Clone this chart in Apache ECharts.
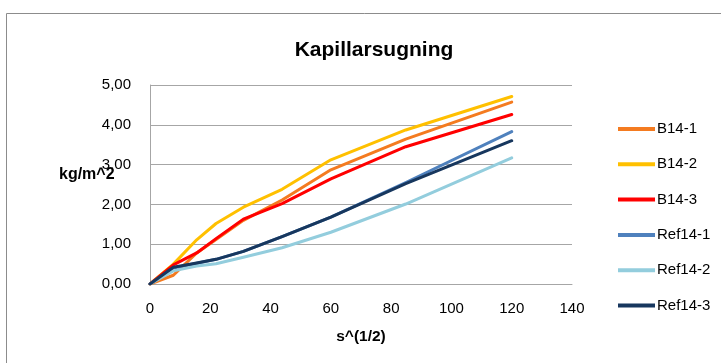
<!DOCTYPE html>
<html>
<head>
<meta charset="utf-8">
<script src="https://cdn.jsdelivr.net/npm/echarts@6/dist/echarts.min.js"></script>
<style>
  html, body { margin: 0; padding: 0; background: #fff; }
  #chart { width: 721px; height: 363px; }
</style>
</head>
<body>
<div id="chart"></div>
<script>
// Square root of elapsed seconds at each weighing
const sqrtSeconds = [0, 7.75, 15.49, 21.91, 30.98, 43.82, 60, 84.85, 120];

// Absorbed water per area, kg/m^2
const b14_1   = [0, 0.22, 0.78, 1.12, 1.60, 2.11, 2.87, 3.64, 4.57];
const b14_2   = [0, 0.50, 1.11, 1.52, 1.93, 2.38, 3.12, 3.87, 4.71];
const b14_3   = [0, 0.48, 0.78, 1.14, 1.63, 2.02, 2.64, 3.45, 4.26];
const ref14_1 = [0, 0.40, 0.52, 0.62, 0.82, 1.19, 1.68, 2.55, 3.83];
const ref14_2 = [0, 0.33, 0.45, 0.51, 0.67, 0.91, 1.30, 2.01, 3.17];
const ref14_3 = [0, 0.42, 0.53, 0.62, 0.82, 1.19, 1.68, 2.52, 3.60];

const seriesNames = ['B14-1', 'B14-2', 'B14-3', 'Ref14-1', 'Ref14-2', 'Ref14-3'];
const seriesValues = [b14_1, b14_2, b14_3, ref14_1, ref14_2, ref14_3];
const seriesColors = ['#F47B20', '#FFC000', '#FF0000', '#4F81BD', '#93CDDD', '#17375E'];

const FONT = "'Liberation Sans', Arial, sans-serif";

const chart = echarts.init(document.getElementById('chart'), null, { renderer: 'canvas' });

chart.setOption({
  animation: false,
  backgroundColor: '#ffffff',
  title: {
    text: 'Kapillarsugning',
    left: 369,
    textAlign: 'center',
    top: 35,
    textStyle: { fontFamily: FONT, fontSize: 21, fontWeight: 'bold', color: '#000' }
  },
  graphic: [
    {
      type: 'rect',
      shape: { x: 6.5, y: 13.5, width: 800, height: 400 },
      style: { fill: 'none', stroke: '#8c8c8c', lineWidth: 1 },
      silent: true, z: -1
    },
    {
      type: 'text',
      left: 59, top: 167,
      style: { text: 'kg/m^2', fontFamily: FONT, fontSize: 16, fontWeight: 'bold', fill: '#000' }
    }
  ],
  grid: { left: 150, right: 149, top: 85, bottom: 79, containLabel: false },
  legend: {
    orient: 'vertical',
    left: 613,
    top: 116,
    itemWidth: 37,
    itemHeight: 4,
    itemGap: 19.3,
    icon: 'rect',
    textStyle: { fontFamily: FONT, fontSize: 15, color: '#000', lineHeight: 16, padding: [0, 0, 0, -3] },
    data: seriesNames
  },
  xAxis: {
    type: 'value',
    min: 0, max: 140, interval: 20,
    name: 's^(1/2)',
    nameLocation: 'middle',
    nameGap: 45,
    nameTextStyle: { fontFamily: FONT, fontSize: 15.5, fontWeight: 'bold', color: '#000' },
    axisLine: { show: true, lineStyle: { color: '#a6a6a6', width: 1 } },
    axisTick: { show: false },
    splitLine: { show: false },
    axisLabel: { margin: 17, fontFamily: FONT, fontSize: 15, color: '#000' }
  },
  yAxis: {
    type: 'value',
    min: 0, max: 5, interval: 1,
    axisLine: { show: true, lineStyle: { color: '#a6a6a6', width: 1 } },
    axisTick: { show: false },
    splitLine: { show: true, lineStyle: { color: '#a6a6a6', width: 1 } },
    axisLabel: {
      margin: 19, fontFamily: FONT, fontSize: 15, color: '#000',
      formatter: v => v.toFixed(2).replace('.', ',')
    }
  },
  series: seriesNames.map((name, i) => ({
    name,
    type: 'line',
    data: sqrtSeconds.map((x, j) => [x, seriesValues[i][j]]),
    showSymbol: false,
    symbol: 'none',
    color: seriesColors[i],
    lineStyle: { width: 3, color: seriesColors[i], cap: 'round', join: 'round' },
    z: 2 + i
  }))
});
</script>
</body>
</html>
